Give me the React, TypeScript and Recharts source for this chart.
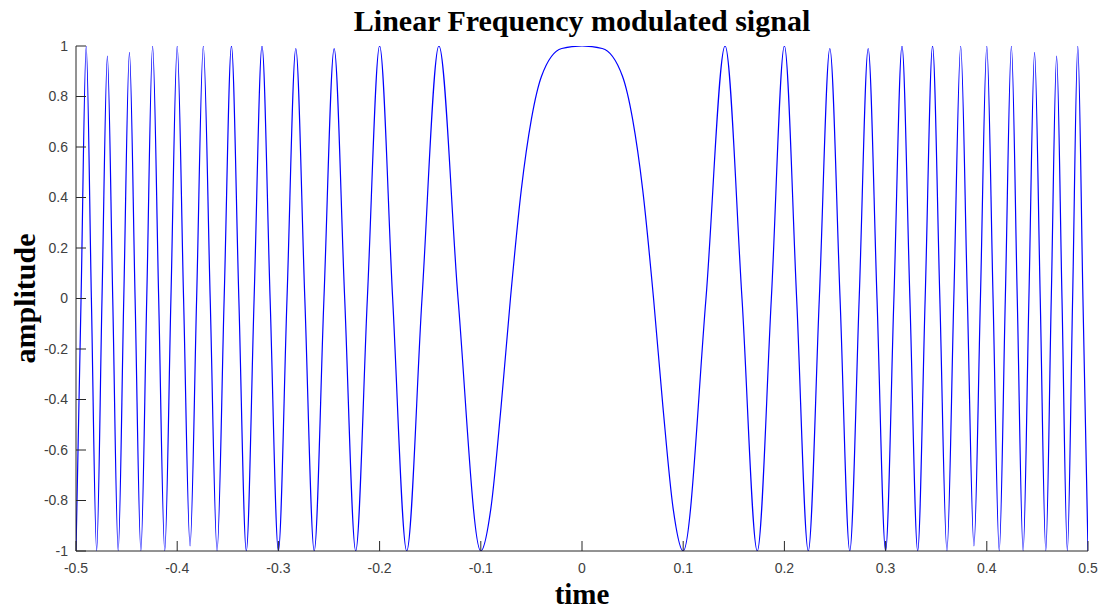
import React from "react";
import { LineChart, Line, XAxis, YAxis } from "recharts";

// Time positions of the signal's peaks, troughs and zero crossings
const timeValues: number[] = [
  -0.5, -0.495, -0.4899, -0.4848, -0.4796, -0.4743, -0.469, -0.4637, -0.4583, -0.4528,
  -0.4472, -0.4416, -0.4359, -0.4301, -0.4243, -0.4183, -0.4123, -0.4062, -0.4, -0.3937,
  -0.3873, -0.3808, -0.3742, -0.3674, -0.3606, -0.3536, -0.3464, -0.3391, -0.3317, -0.324,
  -0.3162, -0.3082, -0.3, -0.2915, -0.2828, -0.2739, -0.2646, -0.255, -0.2449, -0.2345,
  -0.2236, -0.2121, -0.2, -0.1871, -0.1732, -0.1581, -0.1414, -0.1225, -0.1, -0.09,
  -0.08, -0.0707, -0.06, -0.05, -0.04, -0.02, 0,
  0.02, 0.04, 0.05, 0.06, 0.0707, 0.08, 0.09, 0.1, 0.1225, 0.1414,
  0.1581, 0.1732, 0.1871, 0.2, 0.2121, 0.2236, 0.2345, 0.2449, 0.255, 0.2646,
  0.2739, 0.2828, 0.2915, 0.3, 0.3082, 0.3162, 0.324, 0.3317, 0.3391, 0.3464,
  0.3536, 0.3606, 0.3674, 0.3742, 0.3808, 0.3873, 0.3937, 0.4, 0.4062, 0.4123,
  0.4183, 0.4243, 0.4301, 0.4359, 0.4416, 0.4472, 0.4528, 0.4583, 0.4637, 0.469,
  0.4743, 0.4796, 0.4848, 0.4899, 0.495, 0.5,
];

// Amplitude at each of those positions
const amplitudeValues: number[] = [
  -1, 0, 1, 0, -1, 0, 0.96, 0, -1, 0,
  0.975, 0, -1, 0, 1, 0, -1, 0, 1, 0,
  -0.98, 0, 1, 0, -1, 0, 1, 0, -1, 0,
  1, 0, -1, 0, 0.99, 0, -1, 0, 0.99, 0,
  -1, 0, 1, 0, -1, 0, 1, 0, -1, -0.83,
  -0.43, 0, 0.43, 0.71, 0.88, 0.99, 1,
  0.99, 0.88, 0.71, 0.43, 0, -0.43, -0.83, -1, 0, 1,
  0, -1, 0, 1, 0, -1, 0, 0.99, 0, -1,
  0, 0.99, 0, -1, 0, 1, 0, -1, 0, 1,
  0, -1, 0, 1, 0, -0.98, 0, 1, 0, -1,
  0, 1, 0, -1, 0, 0.975, 0, -1, 0, 0.96,
  0, -1, 0, 1, 0, -1,
];

const xTicks: number[] = [-0.5, -0.4, -0.3, -0.2, -0.1, 0, 0.1, 0.2, 0.3, 0.4, 0.5];
const yTicks: number[] = [-1, -0.8, -0.6, -0.4, -0.2, 0, 0.2, 0.4, 0.6, 0.8, 1];

const chartTitle = "Linear Frequency modulated signal";
const xLabel = "time";
const yLabel = "amplitude";

const data = timeValues.map((t, i) => ({ t, y: amplitudeValues[i] }));

const AXIS_COLOR = "#262626";
const TICK_TEXT = "#404040";
const TICK_LEN = 10;
const TICK_FONT = "Arial, 'Liberation Sans', sans-serif";
const SERIF = "'Times New Roman', 'Liberation Serif', serif";

const fmt = (v: number) => {
  const r = Math.round(v * 10) / 10;
  return String(r);
};

const LeftTick = (props: any) => {
  const { x, y, payload } = props;
  const ax = x + 8;
  return (
    <g>
      <line x1={ax} x2={ax + TICK_LEN} y1={y} y2={y} stroke={AXIS_COLOR} strokeWidth={1} />
      <text x={x} y={y} dy="0.35em" textAnchor="end" fill={TICK_TEXT} fontSize={14} fontFamily={TICK_FONT}>
        {fmt(payload.value)}
      </text>
    </g>
  );
};

const BottomTick = (props: any) => {
  const { x, y, payload } = props;
  const ay = y - 12;
  return (
    <g>
      <line x1={x} x2={x} y1={ay} y2={ay - TICK_LEN} stroke={AXIS_COLOR} strokeWidth={1} />
      <text x={x} y={y} dy="0.71em" textAnchor="middle" fill={TICK_TEXT} fontSize={14} fontFamily={TICK_FONT}>
        {fmt(payload.value)}
      </text>
    </g>
  );
};

const RightTick = (props: any) => {
  const { x, y } = props;
  return <line x1={x} x2={x - TICK_LEN} y1={y} y2={y} stroke={AXIS_COLOR} strokeWidth={1} />;
};

const TopTick = (props: any) => {
  const { x, y } = props;
  return <line x1={x} x2={x} y1={y} y2={y + TICK_LEN} stroke={AXIS_COLOR} strokeWidth={1} />;
};

export default function App() {
  return (
    <div style={{ position: "absolute", left: 0, top: 0, width: 1101, height: 609, background: "#fff" }}>
      <div
        style={{
          position: "absolute",
          left: 76,
          width: 1012,
          top: 4,
          textAlign: "center",
          fontFamily: SERIF,
          fontWeight: "bold",
          fontSize: 30,
          lineHeight: "34px",
          color: "#000",
        }}
      >
        {chartTitle}
      </div>
      <LineChart
        width={1101}
        height={609}
        data={data}
        margin={{ top: 46, right: 13, left: 0, bottom: 0 }}
        style={{ position: "absolute", left: 0, top: 0 }}
      >
        <XAxis
          xAxisId="bottom"
          dataKey="t"
          type="number"
          domain={[-0.5, 0.5]}
          ticks={xTicks}
          allowDataOverflow
          height={58}
          orientation="bottom"
          axisLine={{ stroke: AXIS_COLOR }}
          tickLine={false}
          tickSize={0}
          tickMargin={12}
          tick={<BottomTick />}
          interval={0}
          label={{
            value: xLabel,
            position: "insideBottom",
            offset: 5,
            fill: "#000",
            fontSize: 29,
            fontWeight: "bold",
            fontFamily: SERIF,
          }}
        />
        <XAxis
          xAxisId="top"
          dataKey="t"
          type="number"
          domain={[-0.5, 0.5]}
          ticks={xTicks}
          allowDataOverflow
          height={0}
          orientation="top"
          axisLine={{ stroke: AXIS_COLOR }}
          tickLine={false}
          tickSize={0}
          tickMargin={0}
          tick={<TopTick />}
          interval={0}
        />
        <YAxis
          yAxisId="left"
          type="number"
          domain={[-1, 1]}
          ticks={yTicks}
          allowDataOverflow
          width={76}
          orientation="left"
          axisLine={{ stroke: AXIS_COLOR }}
          tickLine={false}
          tickSize={0}
          tickMargin={8}
          tick={<LeftTick />}
          interval={0}
          label={{
            value: yLabel,
            angle: -90,
            position: "insideLeft",
            offset: 24,
            style: { textAnchor: "middle" },
            fill: "#000",
            fontSize: 30,
            fontWeight: "bold",
            fontFamily: SERIF,
          }}
        />
        <YAxis
          yAxisId="right"
          type="number"
          domain={[-1, 1]}
          ticks={yTicks}
          allowDataOverflow
          width={0}
          orientation="right"
          axisLine={{ stroke: AXIS_COLOR }}
          tickLine={false}
          tickSize={0}
          tickMargin={0}
          tick={<RightTick />}
          interval={0}
        />
        <Line
          xAxisId="bottom"
          yAxisId="left"
          type="monotone"
          dataKey="y"
          stroke="#0000ff"
          strokeWidth={1.2}
          dot={false}
          activeDot={false}
          isAnimationActive={false}
        />
      </LineChart>
    </div>
  );
}
